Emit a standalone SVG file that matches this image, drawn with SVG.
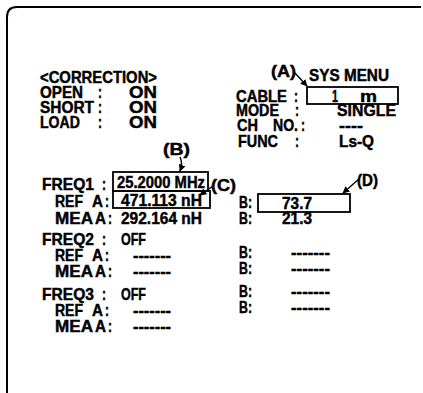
<svg xmlns="http://www.w3.org/2000/svg" width="423" height="393" viewBox="0 0 423 393">
<defs>
<style>
text{font-family:"Liberation Sans",Arial,sans-serif;font-weight:bold;font-size:16.5px;fill:#000;stroke:#000;stroke-width:0.45}
.box{fill:none;stroke:#000;stroke-width:1.8}
.con{fill:none;stroke:#000;stroke-width:1.4}
</style>
<marker id="ah" viewBox="0 0 10 10" refX="9" refY="5" markerWidth="7" markerHeight="7" orient="auto" markerUnits="userSpaceOnUse">
<path d="M0,0 L10,5 L0,10 z" fill="#000"/>
</marker>
</defs>
<rect width="423" height="393" fill="#fff"/>
<path d="M7,393 V17 Q7,7 17,7 H421" fill="none" stroke="#000" stroke-width="2"/>

<g id="correction">
<text x="40" y="83" textLength="117" lengthAdjust="spacingAndGlyphs">&lt;CORRECTION&gt;</text>
<text x="40" y="98" textLength="43" lengthAdjust="spacingAndGlyphs">OPEN</text>
<text x="98" y="98" textLength="4" lengthAdjust="spacingAndGlyphs">:</text>
<text x="129" y="98" textLength="28" lengthAdjust="spacingAndGlyphs">ON</text>
<text x="40" y="113" textLength="54" lengthAdjust="spacingAndGlyphs">SHORT</text>
<text x="98" y="113" textLength="4" lengthAdjust="spacingAndGlyphs">:</text>
<text x="129" y="113" textLength="28" lengthAdjust="spacingAndGlyphs">ON</text>
<text x="40" y="128" textLength="40" lengthAdjust="spacingAndGlyphs">LOAD</text>
<text x="98" y="128" textLength="4" lengthAdjust="spacingAndGlyphs">:</text>
<text x="129" y="128" textLength="28" lengthAdjust="spacingAndGlyphs">ON</text>
</g>

<g id="sysmenu">
<text x="271" y="77" textLength="25" lengthAdjust="spacingAndGlyphs">(A)</text>
<text x="309" y="81" textLength="80" lengthAdjust="spacingAndGlyphs">SYS MENU</text>
<text x="236" y="102" textLength="51" lengthAdjust="spacingAndGlyphs">CABLE</text>
<text x="294" y="102" textLength="4" lengthAdjust="spacingAndGlyphs">:</text>
<rect class="box" x="307" y="87" width="91" height="17"/>
<text x="332" y="102" textLength="6" lengthAdjust="spacingAndGlyphs">1</text>
<text x="360" y="102" textLength="17" lengthAdjust="spacingAndGlyphs">m</text>
<text x="236" y="116" textLength="43" lengthAdjust="spacingAndGlyphs">MODE</text>
<text x="295" y="116" textLength="4" lengthAdjust="spacingAndGlyphs">:</text>
<text x="337" y="116" textLength="59" lengthAdjust="spacingAndGlyphs">SINGLE</text>
<text x="237" y="131" textLength="21" lengthAdjust="spacingAndGlyphs">CH</text>
<text x="273" y="131" textLength="25" lengthAdjust="spacingAndGlyphs">NO.</text>
<text x="301" y="131" textLength="4" lengthAdjust="spacingAndGlyphs">:</text>
<text x="339" y="131" textLength="24" lengthAdjust="spacingAndGlyphs">----</text>
<text x="238" y="147" textLength="40" lengthAdjust="spacingAndGlyphs">FUNC</text>
<text x="295" y="147" textLength="4" lengthAdjust="spacingAndGlyphs">:</text>
<text x="339" y="147" textLength="35" lengthAdjust="spacingAndGlyphs">Ls-Q</text>
</g>

<g id="freq1">
<text x="163" y="155" textLength="27" lengthAdjust="spacingAndGlyphs">(B)</text>
<text x="42" y="190" textLength="52" lengthAdjust="spacingAndGlyphs">FREQ1</text>
<text x="102" y="190" textLength="4" lengthAdjust="spacingAndGlyphs">:</text>
<rect class="box" x="113" y="172" width="95" height="19"/>
<text x="117" y="188" textLength="88" lengthAdjust="spacingAndGlyphs">25.2000 MHz</text>
<text x="211" y="191" textLength="25" lengthAdjust="spacingAndGlyphs">(C)</text>
<text x="55" y="207" textLength="28" lengthAdjust="spacingAndGlyphs">REF</text>
<text x="92" y="207" textLength="11" lengthAdjust="spacingAndGlyphs">A</text>
<text x="105" y="207" textLength="4" lengthAdjust="spacingAndGlyphs">:</text>
<rect class="box" x="113" y="191" width="97" height="17"/>
<text x="121" y="206" textLength="81" lengthAdjust="spacingAndGlyphs">471.113 nH</text>
<text x="55" y="224" textLength="38" lengthAdjust="spacingAndGlyphs">MEA</text>
<text x="95" y="224" textLength="11" lengthAdjust="spacingAndGlyphs">A</text>
<text x="108" y="224" textLength="4" lengthAdjust="spacingAndGlyphs">:</text>
<text x="121" y="224" textLength="81" lengthAdjust="spacingAndGlyphs">292.164 nH</text>
<text x="239" y="208" textLength="13" lengthAdjust="spacingAndGlyphs">B:</text>
<rect class="box" x="258" y="194" width="92" height="18"/>
<text x="282" y="209" textLength="30" lengthAdjust="spacingAndGlyphs">73.7</text>
<text x="357" y="186" textLength="21" lengthAdjust="spacingAndGlyphs">(D)</text>
<text x="239" y="224" textLength="13" lengthAdjust="spacingAndGlyphs">B:</text>
<text x="282" y="224" textLength="30" lengthAdjust="spacingAndGlyphs">21.3</text>
</g>

<g id="freq2">
<text x="42" y="245" textLength="52" lengthAdjust="spacingAndGlyphs">FREQ2</text>
<text x="102" y="245" textLength="4" lengthAdjust="spacingAndGlyphs">:</text>
<text x="121" y="245" textLength="25" lengthAdjust="spacingAndGlyphs">OFF</text>
<text x="55" y="261" textLength="28" lengthAdjust="spacingAndGlyphs">REF</text>
<text x="92" y="261" textLength="11" lengthAdjust="spacingAndGlyphs">A</text>
<text x="105" y="261" textLength="4" lengthAdjust="spacingAndGlyphs">:</text>
<text x="133" y="261" textLength="38" lengthAdjust="spacingAndGlyphs">-------</text>
<text x="55" y="277" textLength="38" lengthAdjust="spacingAndGlyphs">MEA</text>
<text x="95" y="277" textLength="11" lengthAdjust="spacingAndGlyphs">A</text>
<text x="108" y="277" textLength="4" lengthAdjust="spacingAndGlyphs">:</text>
<text x="133" y="277" textLength="38" lengthAdjust="spacingAndGlyphs">-------</text>
<text x="239" y="258" textLength="13" lengthAdjust="spacingAndGlyphs">B:</text>
<text x="291" y="258" textLength="39" lengthAdjust="spacingAndGlyphs">-------</text>
<text x="239" y="274" textLength="13" lengthAdjust="spacingAndGlyphs">B:</text>
<text x="291" y="274" textLength="39" lengthAdjust="spacingAndGlyphs">-------</text>
</g>

<g id="freq3">
<text x="42" y="300" textLength="52" lengthAdjust="spacingAndGlyphs">FREQ3</text>
<text x="102" y="300" textLength="4" lengthAdjust="spacingAndGlyphs">:</text>
<text x="121" y="300" textLength="25" lengthAdjust="spacingAndGlyphs">OFF</text>
<text x="55" y="316" textLength="28" lengthAdjust="spacingAndGlyphs">REF</text>
<text x="92" y="316" textLength="11" lengthAdjust="spacingAndGlyphs">A</text>
<text x="105" y="316" textLength="4" lengthAdjust="spacingAndGlyphs">:</text>
<text x="133" y="316" textLength="38" lengthAdjust="spacingAndGlyphs">-------</text>
<text x="55" y="332" textLength="38" lengthAdjust="spacingAndGlyphs">MEA</text>
<text x="95" y="332" textLength="11" lengthAdjust="spacingAndGlyphs">A</text>
<text x="108" y="332" textLength="4" lengthAdjust="spacingAndGlyphs">:</text>
<text x="133" y="332" textLength="38" lengthAdjust="spacingAndGlyphs">-------</text>
<text x="239" y="297" textLength="13" lengthAdjust="spacingAndGlyphs">B:</text>
<text x="291" y="297" textLength="39" lengthAdjust="spacingAndGlyphs">-------</text>
<text x="239" y="313" textLength="13" lengthAdjust="spacingAndGlyphs">B:</text>
<text x="291" y="313" textLength="39" lengthAdjust="spacingAndGlyphs">-------</text>
</g>

<g id="connectors">
<path class="con" d="M294,72 L307,86" marker-end="url(#ah)"/>
<path class="con" d="M180,157 Q183,163 180,171" marker-end="url(#ah)"/>
<path class="con" d="M213,186 L200,195" marker-end="url(#ah)"/>
<path class="con" d="M359,179 L343,193" marker-end="url(#ah)"/>
</g>
</svg>
